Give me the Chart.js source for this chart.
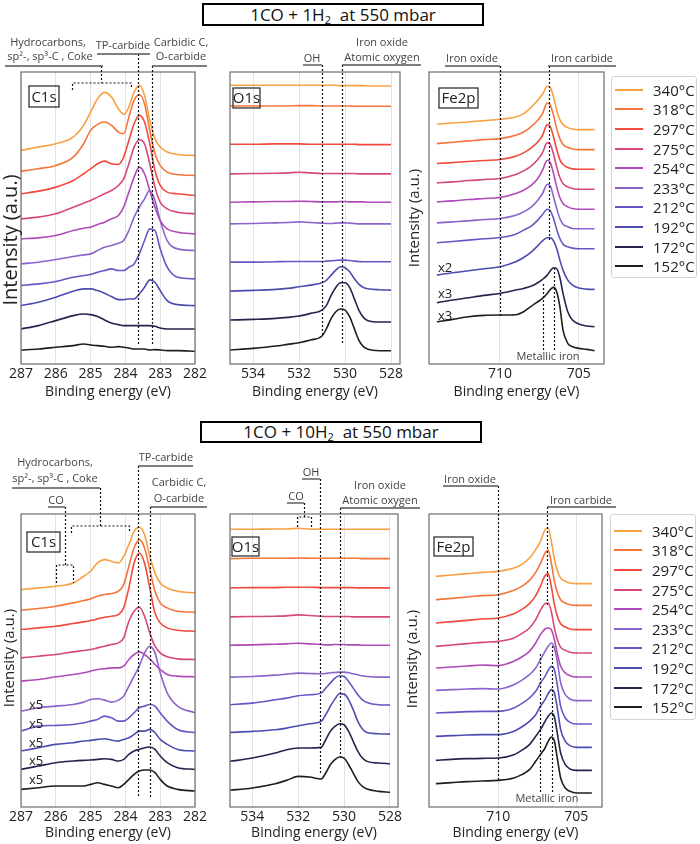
<!DOCTYPE html>
<html>
<head>
<meta charset="utf-8">
<script src="https://cdn.jsdelivr.net/npm/chart.js@4.4.1/dist/chart.umd.min.js"></script>
<style>
  body { margin: 0; background: #fff; font-family: "Open Sans", sans-serif; }
  #page { position: relative; width: 700px; height: 844px; overflow: hidden; }
  canvas { position: absolute; left: 0; }
  .hdr { position: absolute; border: 2.5px solid #000; text-align: center; font-size: 17px; color: #111; white-space: nowrap; }
  .hdr sub { font-size: 11px; vertical-align: baseline; position: relative; top: 3px; }
  .legend { position: absolute; box-sizing: border-box; border: 1px solid #d4d4d4; border-radius: 3px; font-size: 15px; color: #222; }
  .legend .row { height: 19.6px; display: flex; align-items: center; }
  .legend .swatch { width: 28px; margin-left: 3px; border-top: 2px solid #000; }
  .legend .lab { margin-left: 10px; }
</style>
</head>
<body>
<div id="page">
  <div class="hdr" style="left:202px;top:3px;width:278px;height:19px;line-height:19px">1CO + 1H<sub>2</sub>&nbsp; at 550 mbar</div>
  <div class="hdr" style="left:200px;top:421px;width:278px;height:18px;line-height:18px">1CO + 10H<sub>2</sub>&nbsp; at 550 mbar</div>

  <canvas id="c1sTopChart"  width="700" height="422" style="top:0px"></canvas>
  <canvas id="o1sTopChart"  width="700" height="422" style="top:0px"></canvas>
  <canvas id="fe2pTopChart" width="700" height="422" style="top:0px"></canvas>
  <canvas id="c1sBotChart"  width="700" height="422" style="top:422px"></canvas>
  <canvas id="o1sBotChart"  width="700" height="422" style="top:422px"></canvas>
  <canvas id="fe2pBotChart" width="700" height="422" style="top:422px"></canvas>

  <div class="legend" id="legendTop" style="left:611px;top:76px;width:86px;height:202px;padding-top:3px"></div>
  <div class="legend" id="legendBot" style="left:610px;top:514px;width:86px;height:206px;padding-top:6px"></div>
</div>

<script>
// temperatures, top trace first
const temps = ['340°C', '318°C', '297°C', '275°C', '254°C', '233°C', '212°C', '192°C', '172°C', '152°C'];
const traceColors = ['#f8a040', '#f5743a', '#f04a3c', '#d6477a', '#b04ab8', '#8a64cc', '#6457c4', '#4c4cb0', '#24244e', '#1e1e1e'];

// binding energies (eV) the traces are read at
const c1sEnergy  = [287, 286.5, 286, 285.5, 285.2, 285, 284.8, 284.6, 284.4, 284.2, 284.05, 283.9, 283.75, 283.6, 283.45, 283.3, 283.15, 283, 282.8, 282.5, 282];
const o1sEnergy  = [535, 534, 533, 532.5, 532, 531.5, 531, 530.8, 530.6, 530.4, 530.2, 530, 529.8, 529.6, 529.4, 529.2, 529, 528.5, 528];
const fe2pEnergy = [714, 713, 712, 711, 710, 709, 708.5, 708, 707.6, 707.3, 707, 706.8, 706.6, 706.4, 706.2, 706, 705.7, 705.4, 705, 704.5, 704];

// tick labels
const c1sTicks  = [287, 286, 285, 284, 283, 282];
const o1sTicks  = [534, 532, 530, 528];
const fe2pTicks = [710, 705];

// stacked intensities (a.u.), one row per temperature
const c1sTop = [
  [640, 650, 660, 680, 715, 755, 795, 814, 800, 765, 748, 770, 815, 835, 805, 730, 675, 650, 635, 628, 625],
  [578, 585, 595, 620, 660, 700, 718, 725, 715, 695, 690, 740, 790, 807, 780, 700, 630, 595, 575, 568, 565],
  [510, 518, 530, 550, 570, 585, 600, 608, 600, 598, 620, 670, 720, 745, 725, 660, 580, 535, 515, 510, 505],
  [435, 440, 450, 470, 482, 490, 500, 510, 520, 535, 555, 600, 650, 672, 660, 600, 530, 485, 465, 455, 450],
  [375, 378, 385, 400, 407, 410, 418, 425, 435, 445, 470, 515, 560, 590, 570, 520, 470, 430, 405, 395, 390],
  [300, 305, 313, 322, 327, 330, 340, 350, 355, 362, 370, 400, 440, 470, 495, 520, 490, 430, 370, 345, 340],
  [235, 240, 247, 260, 265, 268, 275, 280, 285, 280, 280, 290, 300, 330, 370, 405, 400, 345, 290, 260, 255],
  [175, 185, 200, 218, 225, 225, 220, 212, 202, 193, 193, 195, 195, 210, 230, 252, 245, 220, 190, 178, 175],
  [105, 115, 130, 145, 150, 148, 142, 132, 123, 118, 115, 115, 115, 115, 115, 115, 113, 108, 105, 105, 105],
  [42, 45, 50, 55, 60, 57, 55, 53, 50, 52, 50, 48, 45, 45, 45, 42, 43, 42, 40, 40, 38]
];
const o1sTop = [
  [837, 837, 837, 837, 837, 837, 837, 837, 837, 837, 836, 836, 836, 836, 836, 836, 835, 835, 835],
  [775, 775, 775, 775, 776, 776, 775, 775, 775, 775, 775, 775, 775, 774, 774, 774, 774, 774, 774],
  [660, 660, 661, 661, 661, 660, 660, 660, 660, 660, 660, 660, 660, 660, 659, 659, 659, 659, 659],
  [571, 572, 573, 574, 576, 574, 572, 572, 572, 572, 572, 572, 572, 572, 571, 571, 571, 571, 571],
  [486, 487, 488, 488, 489, 488, 487, 487, 487, 487, 488, 488, 487, 487, 487, 487, 486, 486, 486],
  [421, 422, 424, 425, 427, 425, 423, 422, 422, 423, 424, 424, 423, 422, 421, 421, 421, 421, 421],
  [306, 306, 307, 308, 308, 308, 308, 309, 310, 311, 312, 312, 311, 309, 308, 307, 307, 307, 307],
  [219, 221, 224, 227, 232, 237, 244, 252, 267, 282, 292, 289, 277, 257, 240, 230, 226, 223, 222],
  [132, 134, 137, 140, 144, 152, 162, 177, 207, 230, 244, 244, 230, 197, 162, 140, 130, 126, 126],
  [42, 47, 54, 59, 64, 72, 84, 107, 137, 157, 165, 162, 142, 107, 72, 52, 44, 40, 40]
];
const fe2pTop = [
  [720, 724, 727, 731, 735, 742, 752, 772, 792, 810, 834, 830, 802, 762, 734, 719, 710, 706, 704, 704, 704],
  [662, 666, 670, 674, 677, 687, 697, 714, 732, 752, 784, 777, 747, 707, 677, 660, 650, 646, 644, 644, 644],
  [602, 605, 608, 611, 614, 624, 634, 650, 667, 687, 719, 712, 682, 644, 614, 599, 590, 586, 585, 585, 585],
  [544, 547, 551, 554, 557, 569, 580, 595, 614, 634, 665, 659, 630, 592, 560, 542, 532, 527, 525, 525, 525],
  [487, 490, 494, 497, 500, 512, 522, 537, 557, 582, 612, 604, 572, 532, 500, 482, 472, 467, 465, 465, 465],
  [424, 427, 430, 434, 437, 447, 457, 472, 492, 512, 540, 534, 502, 467, 437, 420, 412, 407, 406, 406, 406],
  [364, 368, 372, 376, 380, 390, 402, 415, 432, 449, 465, 460, 437, 404, 377, 360, 352, 348, 346, 346, 346],
  [267, 274, 280, 286, 292, 307, 320, 337, 355, 370, 379, 379, 370, 347, 312, 282, 252, 237, 228, 225, 224],
  [184, 192, 199, 206, 212, 222, 227, 234, 244, 254, 267, 280, 289, 286, 260, 212, 157, 132, 120, 114, 112],
  [127, 134, 142, 146, 147, 148, 157, 174, 187, 197, 212, 224, 230, 217, 172, 102, 62, 52, 47, 44, 40]
];
const c1sBot = [
  [653, 658, 663, 673, 693, 708, 733, 743, 738, 733, 753, 788, 828, 840, 818, 753, 703, 673, 658, 648, 643],
  [591, 596, 603, 613, 620, 625, 633, 638, 641, 648, 668, 723, 778, 803, 778, 713, 648, 613, 598, 588, 585],
  [533, 538, 543, 551, 556, 560, 565, 570, 573, 578, 598, 658, 733, 763, 733, 658, 583, 553, 538, 531, 528],
  [448, 453, 458, 466, 470, 473, 478, 483, 488, 493, 508, 558, 588, 600, 573, 523, 483, 463, 451, 445, 443],
  [378, 383, 391, 398, 403, 408, 413, 415, 418, 418, 423, 443, 458, 466, 458, 445, 428, 413, 398, 393, 391],
  [288, 298, 303, 308, 315, 323, 325, 321, 315, 321, 333, 363, 393, 423, 463, 483, 463, 403, 343, 303, 283],
  [228, 243, 245, 248, 253, 258, 263, 273, 268, 258, 258, 268, 283, 298, 303, 308, 303, 283, 258, 233, 223],
  [168, 178, 188, 193, 198, 200, 203, 205, 201, 198, 203, 208, 218, 228, 228, 233, 223, 203, 188, 173, 168],
  [113, 123, 133, 138, 140, 141, 143, 145, 143, 138, 143, 158, 168, 173, 178, 180, 173, 153, 133, 118, 113],
  [53, 58, 63, 63, 63, 68, 73, 68, 63, 58, 68, 83, 98, 108, 111, 111, 103, 83, 63, 53, 48]
];
const o1sBot = [
  [834, 834, 835, 835, 837, 835, 834, 834, 834, 834, 834, 834, 834, 834, 834, 834, 834, 834, 834],
  [746, 747, 747, 747, 748, 747, 747, 747, 747, 747, 747, 747, 747, 747, 747, 746, 746, 746, 746],
  [658, 659, 659, 660, 660, 660, 659, 659, 659, 659, 659, 659, 659, 659, 658, 658, 658, 658, 658],
  [571, 572, 573, 574, 577, 575, 573, 572, 572, 572, 572, 572, 572, 571, 571, 571, 571, 571, 571],
  [486, 487, 489, 490, 492, 490, 488, 487, 487, 488, 488, 488, 487, 487, 487, 486, 486, 486, 486],
  [390, 392, 396, 399, 402, 401, 400, 401, 403, 404, 405, 405, 403, 400, 397, 394, 392, 390, 390],
  [307, 312, 322, 327, 334, 337, 342, 357, 372, 387, 394, 392, 377, 357, 337, 322, 314, 307, 306],
  [224, 227, 232, 237, 244, 250, 257, 277, 302, 324, 340, 339, 322, 292, 257, 234, 224, 220, 219],
  [137, 147, 162, 172, 177, 177, 179, 202, 227, 242, 250, 247, 227, 197, 167, 147, 137, 132, 130],
  [50, 57, 70, 80, 92, 90, 84, 102, 127, 142, 150, 147, 127, 102, 77, 62, 54, 47, 44]
];
const fe2pBot = [
  [692, 696, 700, 704, 707, 717, 727, 747, 772, 797, 832, 837, 797, 744, 707, 687, 677, 672, 670, 670, 670],
  [622, 626, 630, 634, 637, 650, 662, 680, 704, 730, 762, 770, 732, 677, 642, 622, 612, 607, 605, 605, 605],
  [552, 556, 560, 564, 567, 580, 592, 610, 634, 662, 694, 700, 662, 607, 570, 550, 540, 534, 532, 532, 532],
  [482, 486, 490, 494, 497, 507, 520, 537, 562, 590, 610, 612, 587, 537, 500, 479, 470, 464, 462, 462, 462],
  [417, 420, 423, 426, 424, 437, 450, 467, 492, 517, 534, 537, 532, 502, 457, 422, 402, 394, 390, 390, 390],
  [350, 352, 354, 355, 354, 367, 380, 397, 417, 442, 467, 482, 492, 477, 432, 372, 337, 324, 319, 319, 319],
  [282, 284, 286, 287, 287, 297, 310, 327, 347, 372, 392, 410, 422, 412, 362, 302, 267, 254, 249, 249, 249],
  [212, 214, 216, 217, 217, 227, 240, 257, 277, 302, 322, 340, 352, 342, 292, 232, 197, 184, 179, 179, 179],
  [140, 143, 145, 146, 147, 157, 170, 187, 212, 232, 257, 272, 282, 270, 217, 162, 127, 114, 110, 110, 110],
  [70, 73, 76, 78, 80, 87, 97, 112, 137, 157, 177, 197, 210, 197, 142, 87, 57, 47, 42, 42, 42]
];

const FONT = '"Open Sans", sans-serif';
const ROW_H = 422;

// frame, peak markers, labels and y title drawn on top of each panel
const panelDecor = {
  id: 'panelDecor',
  afterDraw(chart, args, o) {
    const ctx = chart.ctx, a = chart.chartArea, top = o.rowTop;
    const px = e => chart.scales.x.getPixelForValue(e);
    ctx.save();
    ctx.strokeStyle = '#777';
    ctx.lineWidth = 1.3;
    ctx.strokeRect(a.left, a.top, a.right - a.left, a.bottom - a.top);

    ctx.strokeStyle = '#111';
    ctx.lineWidth = 1.2;
    ctx.setLineDash([2, 2]);
    o.dots.forEach(path => {
      ctx.beginPath();
      path.forEach(([e, y], i) => {
        const X = Math.round(px(e)) + 0.5, Y = y - top;
        if (i) ctx.lineTo(X, Y); else ctx.moveTo(X, Y);
      });
      ctx.stroke();
    });
    ctx.setLineDash([]);

    ctx.strokeStyle = '#555';
    ctx.lineWidth = 1.4;
    o.rules.forEach(([x1, x2, y]) => {
      ctx.beginPath(); ctx.moveTo(x1, y - top); ctx.lineTo(x2, y - top); ctx.stroke();
    });

    ctx.textBaseline = 'middle';
    o.notes.forEach(([s, x, y, size, align, color]) => {
      ctx.font = (size || 11) + 'px ' + FONT;
      ctx.textAlign = align || 'center';
      ctx.fillStyle = color || '#444';
      ctx.fillText(s, x, y - top);
    });

    const b = o.box;
    ctx.strokeStyle = '#333';
    ctx.lineWidth = 1.3;
    ctx.strokeRect(b.x, b.y - top, b.w, b.h);
    ctx.fillStyle = '#222';
    ctx.font = '15px ' + FONT;
    ctx.textAlign = 'center';
    ctx.fillText(b.text, b.x + b.w / 2, b.y - top + b.h / 2 + 1);

    if (o.yTitle) {
      ctx.translate(o.yTitle.x, o.yTitle.y - top);
      ctx.rotate(-Math.PI / 2);
      ctx.font = o.yTitle.size + 'px ' + FONT;
      ctx.fillStyle = '#222';
      ctx.fillText('Intensity (a.u.)', 0, 0);
    }
    ctx.restore();
  }
};

function makePanel(id, cfg) {
  const f = cfg.frame, xH = cfg.xHeight;
  const datasets = cfg.series.map((ys, i) => ({
    label: temps[i],
    data: cfg.energy.map((e, j) => ({ x: e, y: ys[j] })),
    borderColor: traceColors[i],
    borderWidth: 1.6,
    pointRadius: 0,
    cubicInterpolationMode: 'monotone',
    fill: false
  }));
  new Chart(document.getElementById(id), {
    type: 'line',
    data: { datasets: datasets },
    options: {
      responsive: false,
      animation: false,
      devicePixelRatio: 1,
      layout: { padding: { left: f.l, right: 700 - f.r, top: f.t - cfg.rowTop, bottom: ROW_H - (f.b - cfg.rowTop) - xH } },
      plugins: { legend: { display: false }, tooltip: { enabled: false }, panelDecor: Object.assign({ rowTop: cfg.rowTop }, cfg.decor) },
      scales: {
        x: {
          type: 'linear',
          reverse: true,
          min: cfg.xMin,
          max: cfg.xMax,
          afterBuildTicks: s => { s.ticks = cfg.ticks.map(v => ({ value: v })); },
          afterFit: s => { s.height = xH; },
          ticks: { font: { size: 14, family: FONT }, color: '#222', padding: 2, maxRotation: 0, autoSkip: false },
          grid: { color: '#e2e2e2', drawTicks: false, lineWidth: 1 },
          border: { display: false },
          title: { display: true, text: 'Binding energy (eV)', color: '#222', font: { size: 14, family: FONT }, padding: { top: 0, bottom: 2 } }
        },
        y: { display: false, min: 0, max: cfg.yMax }
      }
    },
    plugins: [panelDecor]
  });
}

// ---- 1CO + 1H2 ----
makePanel('c1sTopChart', {
  rowTop: 0, frame: { l: 21, t: 72, r: 195, b: 364 }, xHeight: 38,
  energy: c1sEnergy, series: c1sTop, ticks: c1sTicks, xMin: 282, xMax: 287, yMax: 875,
  decor: {
    notes: [['Hydrocarbons,', 48, 43], ['sp²-, sp³-C , Coke', 50, 57], ['TP-carbide', 123, 46], ['Carbidic C,', 181, 43], ['O-carbide', 181, 57]],
    rules: [[5, 103, 66], [97, 150, 54], [152, 207, 66]],
    dots: [
      [[283.63, 54], [283.63, 345]],
      [[283.24, 66], [283.24, 345]],
      [[284.7, 66], [284.7, 83]],
      [[285.53, 90], [285.53, 83], [283.84, 83], [283.84, 88]]
    ],
    box: { x: 29, y: 86, w: 30, h: 21, text: 'C1s' },
    yTitle: { x: 11, y: 240, size: 20 }
  }
});

makePanel('o1sTopChart', {
  rowTop: 0, frame: { l: 230, t: 72, r: 400, b: 364 }, xHeight: 38,
  energy: o1sEnergy, series: o1sTop, ticks: o1sTicks, xMin: 527.61, xMax: 535.0, yMax: 877,
  decor: {
    notes: [['OH', 312, 59], ['Iron oxide', 382, 43], ['Atomic oxygen', 382, 58]],
    rules: [[303, 322, 65], [342, 421, 65]],
    dots: [
      [[531.0, 65], [531.0, 337]],
      [[530.14, 65], [530.14, 345]]
    ],
    box: { x: 233, y: 88, w: 27, h: 20, text: 'O1s' }
  }
});

makePanel('fe2pTopChart', {
  rowTop: 0, frame: { l: 429, t: 72, r: 604, b: 364 }, xHeight: 38,
  energy: fe2pEnergy, series: fe2pTop, ticks: fe2pTicks, xMin: 703.4, xMax: 714.5, yMax: 877,
  decor: {
    notes: [['Iron oxide', 472, 59], ['Iron carbide', 582, 59], ['Metallic iron', 548, 357],
            ['x2', 438, 268, 13, 'left', '#222'], ['x3', 438, 294, 13, 'left', '#222'], ['x3', 438, 316, 13, 'left', '#222']],
    rules: [[445, 500, 66], [548, 616, 66]],
    dots: [
      [[710, 66], [710, 317]],
      [[706.9, 66], [706.9, 240]],
      [[707.3, 350], [707.3, 282]],
      [[706.55, 350], [706.55, 268]]
    ],
    box: { x: 439, y: 88, w: 39, h: 20, text: 'Fe2p' },
    yTitle: { x: 415, y: 218, size: 15 }
  }
});

// ---- 1CO + 10H2 ----
makePanel('c1sBotChart', {
  rowTop: 422, frame: { l: 21, t: 514, r: 195, b: 807 }, xHeight: 36,
  energy: c1sEnergy, series: c1sBot, ticks: c1sTicks, xMin: 282, xMax: 287, yMax: 880,
  decor: {
    notes: [['Hydrocarbons,', 55, 463], ['sp²-, sp³-C , Coke', 55, 479], ['CO', 56, 501], ['TP-carbide', 166, 458],
            ['Carbidic C,', 179, 483], ['O-carbide', 179, 499],
            ['x5', 36, 705, 13, 'center', '#222'], ['x5', 36, 724, 13, 'center', '#222'], ['x5', 36, 743, 13, 'center', '#222'],
            ['x5', 36, 761, 13, 'center', '#222'], ['x5', 36, 780, 13, 'center', '#222']],
    rules: [[12, 100, 488], [48, 65, 507], [138, 193, 466], [150, 207, 507]],
    dots: [
      [[284.73, 488], [284.73, 526]],
      [[285.56, 533], [285.56, 526], [283.9, 526], [283.9, 533]],
      [[285.74, 507], [285.74, 565]],
      [[285.99, 583], [285.99, 565], [285.5, 565], [285.5, 583]],
      [[283.63, 466], [283.63, 797]],
      [[283.29, 507], [283.29, 797]]
    ],
    box: { x: 27, y: 532, w: 33, h: 20, text: 'C1s' },
    yTitle: { x: 10, y: 658, size: 15 }
  }
});

makePanel('o1sBotChart', {
  rowTop: 422, frame: { l: 230, t: 514, r: 398, b: 807 }, xHeight: 36,
  energy: o1sEnergy, series: o1sBot, ticks: o1sTicks, xMin: 527.65, xMax: 534.97, yMax: 880,
  decor: {
    notes: [['OH', 311, 473], ['CO', 296, 497], ['Iron oxide', 380, 486], ['Atomic oxygen', 380, 501]],
    rules: [[302, 320, 479], [287, 304, 503], [340, 420, 508]],
    dots: [
      [[531.04, 479], [531.04, 773]],
      [[531.75, 503], [531.75, 517]],
      [[532.05, 527], [532.05, 517], [531.44, 517], [531.44, 527]],
      [[530.18, 508], [530.18, 757]]
    ],
    box: { x: 232, y: 537, w: 27, h: 19, text: 'O1s' }
  }
});

makePanel('fe2pBotChart', {
  rowTop: 422, frame: { l: 429, t: 514, r: 602, b: 807 }, xHeight: 36,
  energy: fe2pEnergy, series: fe2pBot, ticks: fe2pTicks, xMin: 703.35, xMax: 714.44, yMax: 879,
  decor: {
    notes: [['Iron oxide', 470, 480], ['Iron carbide', 581, 501], ['Metallic iron', 547, 799]],
    rules: [[443, 498, 486], [547, 616, 507]],
    dots: [
      [[710, 486], [710, 782]],
      [[706.86, 507], [706.86, 605]],
      [[707.3, 792], [707.3, 653]],
      [[706.54, 792], [706.54, 644]]
    ],
    box: { x: 434, y: 537, w: 39, h: 19, text: 'Fe2p' },
    yTitle: { x: 413, y: 659, size: 15 }
  }
});

// legends, built from the same temperature list
['legendTop', 'legendBot'].forEach(id => {
  const box = document.getElementById(id);
  temps.forEach((t, i) => {
    const row = document.createElement('div');
    row.className = 'row';
    row.innerHTML = '<span class="swatch" style="border-top-color:' + traceColors[i] + '"></span><span class="lab">' + t + '</span>';
    box.appendChild(row);
  });
});
</script>
</body>
</html>
